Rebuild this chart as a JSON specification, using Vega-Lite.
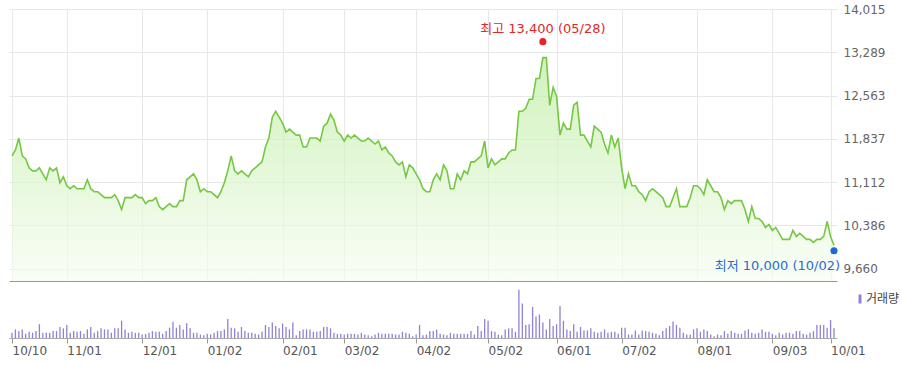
{
"$schema": "https://vega.github.io/schema/vega-lite/v6.json",
"padding": {"left": 8, "top": 3, "right": 0, "bottom": 0},
"background": "white",
"config": {"view": {"stroke": null}, "font": "DejaVu Sans", "concat": {"spacing": 7}},
"datasets": {
"s": [
{"d":"2017-10-10","c":11550,"v":15},{"d":"2017-10-11","c":11650,"v":25},{"d":"2017-10-12","c":11850,"v":20},{"d":"2017-10-13","c":11550,"v":25},
{"d":"2017-10-16","c":11500,"v":12},{"d":"2017-10-17","c":11350,"v":18},{"d":"2017-10-18","c":11300,"v":15},{"d":"2017-10-19","c":11300,"v":20},{"d":"2017-10-20","c":11350,"v":40},
{"d":"2017-10-23","c":11250,"v":15},{"d":"2017-10-24","c":11150,"v":15},{"d":"2017-10-25","c":11350,"v":15},{"d":"2017-10-26","c":11300,"v":20},{"d":"2017-10-27","c":11350,"v":20},
{"d":"2017-10-30","c":11100,"v":32},{"d":"2017-10-31","c":11200,"v":28},
{"d":"2017-11-01","c":11050,"v":38},{"d":"2017-11-02","c":11000,"v":15},{"d":"2017-11-03","c":11050,"v":20},
{"d":"2017-11-06","c":11000,"v":18},{"d":"2017-11-07","c":11000,"v":20},{"d":"2017-11-08","c":11000,"v":12},{"d":"2017-11-09","c":11150,"v":25},{"d":"2017-11-10","c":11000,"v":32},
{"d":"2017-11-13","c":10950,"v":15},{"d":"2017-11-14","c":10950,"v":20},{"d":"2017-11-15","c":10900,"v":28},{"d":"2017-11-16","c":10850,"v":25},{"d":"2017-11-17","c":10850,"v":25},
{"d":"2017-11-20","c":10850,"v":15},{"d":"2017-11-21","c":10900,"v":28},{"d":"2017-11-22","c":10800,"v":28},{"d":"2017-11-23","c":10650,"v":50},{"d":"2017-11-24","c":10850,"v":25},
{"d":"2017-11-27","c":10850,"v":15},{"d":"2017-11-28","c":10850,"v":18},{"d":"2017-11-29","c":10900,"v":15},{"d":"2017-11-30","c":10850,"v":15},
{"d":"2017-12-01","c":10850,"v":10},
{"d":"2017-12-04","c":10750,"v":12},{"d":"2017-12-05","c":10800,"v":15},{"d":"2017-12-06","c":10800,"v":20},{"d":"2017-12-07","c":10850,"v":18},{"d":"2017-12-08","c":10700,"v":18},
{"d":"2017-12-11","c":10650,"v":12},{"d":"2017-12-12","c":10700,"v":20},{"d":"2017-12-13","c":10750,"v":30},{"d":"2017-12-14","c":10700,"v":47},{"d":"2017-12-15","c":10700,"v":30},
{"d":"2017-12-18","c":10800,"v":38},{"d":"2017-12-19","c":10800,"v":25},{"d":"2017-12-20","c":11150,"v":43},{"d":"2017-12-21","c":11200,"v":28},{"d":"2017-12-22","c":11250,"v":15},
{"d":"2017-12-26","c":11150,"v":15},{"d":"2017-12-27","c":10950,"v":10},{"d":"2017-12-28","c":11000,"v":8},
{"d":"2018-01-02","c":10950,"v":12},{"d":"2018-01-03","c":10950,"v":10},{"d":"2018-01-04","c":10900,"v":15},{"d":"2018-01-05","c":10850,"v":20},
{"d":"2018-01-08","c":10950,"v":20},{"d":"2018-01-09","c":11100,"v":25},{"d":"2018-01-10","c":11300,"v":55},{"d":"2018-01-11","c":11550,"v":30},{"d":"2018-01-12","c":11300,"v":28},
{"d":"2018-01-15","c":11250,"v":18},{"d":"2018-01-16","c":11300,"v":32},{"d":"2018-01-17","c":11250,"v":20},{"d":"2018-01-18","c":11200,"v":15},{"d":"2018-01-19","c":11300,"v":15},
{"d":"2018-01-22","c":11350,"v":12},{"d":"2018-01-23","c":11400,"v":10},{"d":"2018-01-24","c":11450,"v":18},{"d":"2018-01-25","c":11700,"v":38},{"d":"2018-01-26","c":11850,"v":32},
{"d":"2018-01-29","c":12200,"v":45},{"d":"2018-01-30","c":12300,"v":35},{"d":"2018-01-31","c":12200,"v":28},
{"d":"2018-02-01","c":12100,"v":42},{"d":"2018-02-02","c":11950,"v":32},
{"d":"2018-02-05","c":12000,"v":25},{"d":"2018-02-06","c":11950,"v":45},{"d":"2018-02-07","c":11900,"v":8},{"d":"2018-02-08","c":11900,"v":20},{"d":"2018-02-09","c":11700,"v":25},
{"d":"2018-02-12","c":11700,"v":25},{"d":"2018-02-13","c":11850,"v":25},{"d":"2018-02-14","c":11850,"v":18},
{"d":"2018-02-19","c":11850,"v":18},{"d":"2018-02-20","c":11800,"v":20},{"d":"2018-02-21","c":12050,"v":32},{"d":"2018-02-22","c":12100,"v":32},{"d":"2018-02-23","c":12250,"v":28},
{"d":"2018-02-26","c":12150,"v":15},{"d":"2018-02-27","c":11950,"v":12},{"d":"2018-02-28","c":11900,"v":12},
{"d":"2018-03-02","c":11800,"v":10},
{"d":"2018-03-05","c":11900,"v":12},{"d":"2018-03-06","c":11850,"v":12},{"d":"2018-03-07","c":11900,"v":12},{"d":"2018-03-08","c":11850,"v":10},{"d":"2018-03-09","c":11800,"v":15},
{"d":"2018-03-12","c":11800,"v":10},{"d":"2018-03-13","c":11850,"v":8},{"d":"2018-03-14","c":11800,"v":5},{"d":"2018-03-15","c":11750,"v":10},{"d":"2018-03-16","c":11800,"v":15},
{"d":"2018-03-19","c":11650,"v":12},{"d":"2018-03-20","c":11700,"v":12},{"d":"2018-03-21","c":11600,"v":12},{"d":"2018-03-22","c":11550,"v":12},{"d":"2018-03-23","c":11450,"v":10},
{"d":"2018-03-26","c":11400,"v":10},{"d":"2018-03-27","c":11450,"v":18},{"d":"2018-03-28","c":11200,"v":15},{"d":"2018-03-29","c":11400,"v":12},{"d":"2018-03-30","c":11350,"v":5},
{"d":"2018-04-02","c":11250,"v":10},{"d":"2018-04-03","c":11150,"v":38},{"d":"2018-04-04","c":11000,"v":8},{"d":"2018-04-05","c":10950,"v":10},{"d":"2018-04-06","c":10950,"v":20},
{"d":"2018-04-09","c":11150,"v":20},{"d":"2018-04-10","c":11250,"v":25},{"d":"2018-04-11","c":11150,"v":12},{"d":"2018-04-12","c":11400,"v":10},{"d":"2018-04-13","c":11300,"v":8},
{"d":"2018-04-16","c":11000,"v":15},{"d":"2018-04-17","c":11000,"v":12},{"d":"2018-04-18","c":11250,"v":12},{"d":"2018-04-19","c":11150,"v":12},{"d":"2018-04-20","c":11300,"v":12},
{"d":"2018-04-23","c":11250,"v":12},{"d":"2018-04-24","c":11450,"v":20},{"d":"2018-04-25","c":11450,"v":10},{"d":"2018-04-26","c":11500,"v":35},{"d":"2018-04-27","c":11550,"v":20},
{"d":"2018-04-30","c":11800,"v":55},
{"d":"2018-05-02","c":11350,"v":50},{"d":"2018-05-03","c":11500,"v":20},{"d":"2018-05-04","c":11400,"v":18},
{"d":"2018-05-08","c":11450,"v":10},{"d":"2018-05-09","c":11500,"v":8},{"d":"2018-05-10","c":11500,"v":25},{"d":"2018-05-11","c":11600,"v":28},
{"d":"2018-05-14","c":11650,"v":28},{"d":"2018-05-15","c":11650,"v":18},{"d":"2018-05-16","c":12300,"v":140},{"d":"2018-05-17","c":12300,"v":100},{"d":"2018-05-18","c":12350,"v":38},
{"d":"2018-05-21","c":12500,"v":40},{"d":"2018-05-23","c":12500,"v":90},{"d":"2018-05-24","c":12850,"v":62},{"d":"2018-05-25","c":12850,"v":68},
{"d":"2018-05-28","c":13200,"v":45},{"d":"2018-05-29","c":13200,"v":25},{"d":"2018-05-30","c":12400,"v":55},{"d":"2018-05-31","c":12700,"v":35},
{"d":"2018-06-01","c":12550,"v":40},
{"d":"2018-06-04","c":11900,"v":93},{"d":"2018-06-05","c":12100,"v":50},{"d":"2018-06-07","c":12000,"v":25},{"d":"2018-06-08","c":12000,"v":20},
{"d":"2018-06-11","c":12400,"v":40},{"d":"2018-06-12","c":12450,"v":18},{"d":"2018-06-14","c":11900,"v":32},{"d":"2018-06-15","c":11900,"v":22},
{"d":"2018-06-18","c":11800,"v":22},{"d":"2018-06-19","c":11700,"v":28},{"d":"2018-06-20","c":12050,"v":18},{"d":"2018-06-21","c":12000,"v":15},{"d":"2018-06-22","c":11950,"v":18},
{"d":"2018-06-25","c":11750,"v":25},{"d":"2018-06-26","c":11600,"v":15},{"d":"2018-06-27","c":11900,"v":18},{"d":"2018-06-28","c":11700,"v":18},{"d":"2018-06-29","c":11850,"v":12},
{"d":"2018-07-02","c":11350,"v":30},{"d":"2018-07-03","c":11000,"v":30},{"d":"2018-07-04","c":11250,"v":10},{"d":"2018-07-05","c":11050,"v":10},{"d":"2018-07-06","c":11050,"v":22},
{"d":"2018-07-09","c":10950,"v":10},{"d":"2018-07-10","c":10900,"v":22},{"d":"2018-07-11","c":10800,"v":20},{"d":"2018-07-12","c":10950,"v":18},{"d":"2018-07-13","c":11000,"v":15},
{"d":"2018-07-16","c":10950,"v":12},{"d":"2018-07-17","c":10900,"v":8},{"d":"2018-07-18","c":10850,"v":20},{"d":"2018-07-19","c":10700,"v":28},{"d":"2018-07-20","c":10700,"v":35},
{"d":"2018-07-23","c":10850,"v":48},{"d":"2018-07-24","c":11000,"v":38},{"d":"2018-07-25","c":10700,"v":30},{"d":"2018-07-26","c":10700,"v":15},{"d":"2018-07-27","c":10700,"v":10},
{"d":"2018-07-30","c":10850,"v":10},{"d":"2018-07-31","c":11050,"v":25},
{"d":"2018-08-01","c":11050,"v":28},{"d":"2018-08-02","c":11000,"v":18},{"d":"2018-08-03","c":10900,"v":25},
{"d":"2018-08-06","c":11150,"v":20},{"d":"2018-08-07","c":11050,"v":10},{"d":"2018-08-08","c":10950,"v":5},{"d":"2018-08-09","c":10950,"v":10},{"d":"2018-08-10","c":10850,"v":8},
{"d":"2018-08-13","c":10650,"v":20},{"d":"2018-08-14","c":10800,"v":12},{"d":"2018-08-16","c":10750,"v":20},{"d":"2018-08-17","c":10800,"v":15},
{"d":"2018-08-20","c":10800,"v":12},{"d":"2018-08-21","c":10800,"v":12},{"d":"2018-08-22","c":10650,"v":22},{"d":"2018-08-23","c":10450,"v":25},{"d":"2018-08-24","c":10700,"v":15},
{"d":"2018-08-27","c":10500,"v":12},{"d":"2018-08-28","c":10500,"v":15},{"d":"2018-08-29","c":10450,"v":25},{"d":"2018-08-30","c":10350,"v":18},{"d":"2018-08-31","c":10400,"v":18},
{"d":"2018-09-03","c":10300,"v":12},{"d":"2018-09-04","c":10350,"v":8},{"d":"2018-09-05","c":10250,"v":15},{"d":"2018-09-06","c":10150,"v":10},{"d":"2018-09-07","c":10150,"v":15},
{"d":"2018-09-10","c":10150,"v":15},{"d":"2018-09-11","c":10300,"v":12},{"d":"2018-09-12","c":10200,"v":20},{"d":"2018-09-13","c":10250,"v":20},{"d":"2018-09-14","c":10200,"v":12},
{"d":"2018-09-17","c":10150,"v":10},{"d":"2018-09-18","c":10150,"v":15},{"d":"2018-09-19","c":10100,"v":20},{"d":"2018-09-20","c":10150,"v":38},{"d":"2018-09-21","c":10150,"v":38},
{"d":"2018-09-27","c":10200,"v":38},{"d":"2018-09-28","c":10450,"v":30},
{"d":"2018-10-01","c":10200,"v":52},{"d":"2018-10-02","c":10050,"v":28}
],
"hi": [{"d":"2018-05-28","p":13400,"t":"최고 13,400 (05/28)"}],
"lo": [{"d":"2018-10-02","p":10000,"t":"최저 10,000 (10/02)"}]
},
"vconcat": [
{
"width": 828, "height": 272,
"layer": [
{
"data": {"name": "s"},
"mark": {"type": "area", "line": {"color": "#74c842", "strokeWidth": 1.6},
"color": {"gradient": "linear", "x1": 0, "y1": 0, "x2": 0, "y2": 1, "stops": [{"offset": 0, "color": "#bdeda0"}, {"offset": 1, "color": "#f7fdf3"}]}},
"encoding": {
"x": {"field": "d", "type": "ordinal", "scale": {"type": "point", "padding": 0.876},
"axis": {"title": null, "labels": false, "ticks": false, "domain": true, "domainColor": "#999999", "grid": true, "gridColor": "#e8e8e8",
"values": ["2017-10-10","2017-11-01","2017-12-01","2018-01-02","2018-02-01","2018-03-02","2018-04-02","2018-05-02","2018-06-01","2018-07-02","2018-08-01","2018-09-03","2018-10-01"]}},
"y": {"field": "c", "type": "quantitative", "scale": {"domain": [9452, 14015], "zero": false, "nice": false},
"axis": {"title": null, "orient": "right", "values": [9660, 10386, 11112, 11837, 12563, 13289, 14015], "format": ",d", "grid": true, "gridColor": "#e8e8e8",
"ticks": false, "domain": false, "labelColor": "#666666", "labelFontSize": 12, "labelPadding": 6, "labelFont": "DejaVu Sans"}},
"y2": {"datum": 9452}
}
},
{
"data": {"name": "hi"},
"mark": {"type": "point", "filled": true, "color": "#e8212b", "size": 50, "opacity": 1, "yOffset": -4},
"encoding": {"x": {"field": "d", "type": "ordinal"}, "y": {"field": "p", "type": "quantitative"}}
},
{
"data": {"name": "hi"},
"mark": {"type": "text", "color": "#e0262b", "fontSize": 13, "dy": -17, "font": "DejaVu Sans, Noto Sans CJK KR", "baseline": "middle"},
"encoding": {"x": {"field": "d", "type": "ordinal"}, "y": {"field": "p", "type": "quantitative"}, "text": {"field": "t"}}
},
{
"data": {"name": "lo"},
"mark": {"type": "point", "filled": true, "color": "#1f66d6", "size": 50, "opacity": 1, "yOffset": 2.5},
"encoding": {"x": {"field": "d", "type": "ordinal"}, "y": {"field": "p", "type": "quantitative"}}
},
{
"data": {"name": "lo"},
"mark": {"type": "text", "color": "#2f6cc6", "fontSize": 13, "dy": 18, "dx": 6, "align": "right", "font": "DejaVu Sans, Noto Sans CJK KR", "baseline": "middle"},
"encoding": {"x": {"field": "d", "type": "ordinal"}, "y": {"field": "p", "type": "quantitative"}, "text": {"field": "t"}}
}
]
},
{
"width": 828, "height": 50,
"data": {"name": "s"},
"mark": {"type": "bar", "size": 1.3},
"encoding": {
"x": {"field": "d", "type": "ordinal", "scale": {"type": "point", "padding": 0.876},
"axis": {"title": null, "grid": false, "ticks": true, "tickSize": 5, "tickColor": "#999999", "domainColor": "#aaaaaa",
"labelAlign": "left", "labelBaseline": "top", "labelPadding": 2, "labelColor": "#555555", "labelFontSize": 12, "labelFont": "DejaVu Sans", "labelAngle": 0,
"values": ["2017-10-10","2017-11-01","2017-12-01","2018-01-02","2018-02-01","2018-03-02","2018-04-02","2018-05-02","2018-06-01","2018-07-02","2018-08-01","2018-09-03","2018-10-01"],
"labelExpr": "replace(slice(datum.value, 5), '-', '/')"}},
"y": {"field": "v", "type": "quantitative", "scale": {"domain": [0, 145]}, "axis": null},
"color": {"datum": "거래량", "scale": {"range": ["#8f82d4"]},
"legend": {"title": null, "orient": "none", "legendX": 845, "legendY": 5, "symbolType": "M-0.5,-1.5H0.5V1.5H-0.5Z", "symbolSize": 36, "symbolStrokeWidth": 0,
"labelFontSize": 12, "labelFont": "Noto Sans CJK KR", "labelColor": "#444444", "padding": 0, "labelOffset": 0}}
}
}
],
"resolve": {"scale": {"color": "independent"}, "legend": {"color": "independent"}}
}
